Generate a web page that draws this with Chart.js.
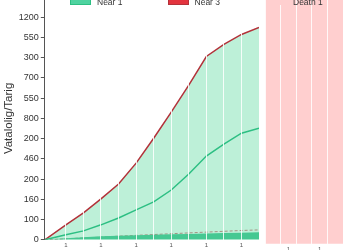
<!DOCTYPE html>
<html>
<head>
<meta charset="utf-8">
<script src="https://cdn.jsdelivr.net/npm/chart.js@4.4.0/dist/chart.umd.min.js"></script>
<style>
  html, body { margin: 0; padding: 0; width: 350px; height: 250px; overflow: hidden; background: #fff; }
  body { position: relative; font-family: "Liberation Sans", Arial, sans-serif; }
  #mainBox { position: absolute; left: 0; top: -14px; width: 262px; height: 276px; }
  #sideBox { position: absolute; left: 262px; top: -14px; width: 88px; height: 276px; }
  .legend { position: absolute; top: -4px; height: 12px; display: flex; align-items: center; font-size: 8.5px; color: #333; }
  #legendMain { left: 70px; gap: 45px; }
  #legendSide { left: 266px; }
  .legend span.item { display: flex; align-items: center; }
  .legend span.box { display: inline-block; position: relative; top: -2px; width: 21px; height: 10px; margin-right: 6px; box-sizing: border-box; }
</style>
</head>
<body>
<div id="mainBox"><canvas id="mainChart"></canvas></div>
<div id="sideBox"><canvas id="sideChart"></canvas></div>
<div class="legend" id="legendMain"></div>
<div class="legend" id="legendSide"></div>
<script>
// x positions of the readings (first one sits on the y axis)
const days = [-0.2, 1, 2, 3, 4, 5, 6, 7, 8, 9, 10, 11, 12];
const near1 = [0, 25, 44, 74, 108, 148, 187, 246, 325, 414, 473, 527, 552];
const near3 = [0, 74, 133, 202, 276, 379, 502, 631, 764, 906, 966, 1015, 1049];
const near2 = [0, 5, 9, 13, 18, 22, 26, 30, 34, 38, 42, 46, 49];
const baseBand = [0, 8, 13, 17, 20, 23, 25, 27, 29, 31, 33, 35, 37];

const deathLabels = ["Death 1"];
const deathValues = [1200];

const yTickLabels = ["0", "100", "160", "200", "460", "200", "800", "550", "700", "300", "550", "1200", "1400"];
const xTickLabels = ["", "1", "", "1", "", "1", "", "1", "", "1", "", "1", ""];
const sideTickLabels = ["", "1", "", "1", ""];
const yTitle = "Vatalolig/Tarig";

Chart.defaults.font.family = "'Liberation Sans', Arial, sans-serif";
Chart.defaults.color = "#333";

function pairs(values) {
    return values.map((v, i) => ({ x: days[i], y: v }));
}

const mainChart = new Chart(document.getElementById("mainChart"), {
    type: "line",
    data: {
        datasets: [
            {
                label: "Near 1",
                data: pairs(near1),
                borderColor: "#2dbf83",
                backgroundColor: "#4fd3a0",
                borderWidth: 1.5,
                pointRadius: 0,
                fill: false,
            },
            {
                label: "Base",
                data: pairs(baseBand),
                borderColor: "rgba(0,0,0,0)",
                backgroundColor: "#45c892",
                borderWidth: 0,
                pointRadius: 0,
                fill: "origin",
            },
            {
                label: "Near 2",
                data: pairs(near2),
                borderColor: "#a39282",
                borderDash: [3, 2],
                borderWidth: 1,
                pointRadius: 0,
                fill: false,
            },
            {
                label: "Near 3",
                data: pairs(near3),
                borderColor: "#b3323a",
                backgroundColor: "#bdf0d8",
                borderWidth: 1.5,
                pointRadius: 0,
                fill: "origin",
            },
        ],
    },
    options: {
        responsive: true,
        maintainAspectRatio: false,
        animation: false,
        layout: { padding: { top: 11, right: 3, bottom: 11, left: 2 } },
        plugins: {
            legend: { display: false },
            tooltip: { enabled: false },
        },
        scales: {
            x: {
                type: "linear",
                min: -0.2,
                max: 12,
                grid: {
                    color: (c) => (c.tick && c.tick.value === 0 ? "rgba(255,255,255,0)" : "rgba(255,255,255,0.85)"),
                    lineWidth: 1,
                    drawTicks: false,
                    z: 1,
                },
                border: { display: false },
                ticks: {
                    stepSize: 1,
                    includeBounds: false,
                    autoSkip: false,
                    maxRotation: 0,
                    padding: 2,
                    color: "#555",
                    font: { size: 6 },
                    callback: (v) => xTickLabels[v] ?? "",
                },
            },
            y: {
                min: 0,
                max: 1200,
                grid: { drawOnChartArea: false, drawTicks: true, tickLength: 4, color: "#555" },
                border: { display: true, color: "#555" },
                ticks: {
                    stepSize: 100,
                    padding: 2,
                    color: "#333",
                    font: { size: 9 },
                    callback: (v) => yTickLabels[Math.round(v / 100)],
                },
                title: {
                    display: true,
                    text: yTitle,
                    color: "#333",
                    font: { size: 11.5 },
                    padding: { top: 0, bottom: 1 },
                },
            },
        },
    },
});

const sideChart = new Chart(document.getElementById("sideChart"), {
    type: "bar",
    data: {
        labels: deathLabels,
        datasets: [
            {
                label: "Death 1",
                data: deathValues,
                backgroundColor: "#ffcfcf",
                borderColor: "#ffcfcf",
                borderWidth: 0,
                barPercentage: 1,
                categoryPercentage: 1,
            },
        ],
    },
    options: {
        responsive: true,
        maintainAspectRatio: false,
        animation: false,
        layout: { padding: { top: 11, right: 7, bottom: 7, left: 3 } },
        plugins: {
            legend: { display: false },
            tooltip: { enabled: false },
        },
        scales: {
            x: { display: false },
            x2: {
                type: "linear",
                position: "bottom",
                min: 0,
                max: 4,
                grid: { color: "rgba(255,255,255,0.85)", lineWidth: 1, drawTicks: false, z: 1 },
                border: { display: false },
                ticks: {
                    stepSize: 1,
                    padding: 2,
                    color: "#555",
                    font: { size: 6 },
                    callback: (v) => sideTickLabels[v] ?? "",
                },
            },
            y: { display: false, min: 0, max: 1200 },
        },
    },
});

// html legend, same look as the picture (drawn over the plot top)
function buildLegend(chart, el, names) {
    chart.data.datasets
        .filter((ds) => names.includes(ds.label))
        .forEach((ds) => {
            const item = document.createElement("span");
            item.className = "item";
            const box = document.createElement("span");
            box.className = "box";
            box.style.background = ds.label === "Near 3" ? "#e3343e" : ds.backgroundColor;
            box.style.border = "1px solid " + ds.borderColor;
            const txt = document.createElement("span");
            txt.textContent = ds.label;
            item.appendChild(box);
            item.appendChild(txt);
            el.appendChild(item);
        });
}
buildLegend(mainChart, document.getElementById("legendMain"), ["Near 1", "Near 3"]);
buildLegend(sideChart, document.getElementById("legendSide"), ["Death 1"]);
</script>
</body>
</html>
